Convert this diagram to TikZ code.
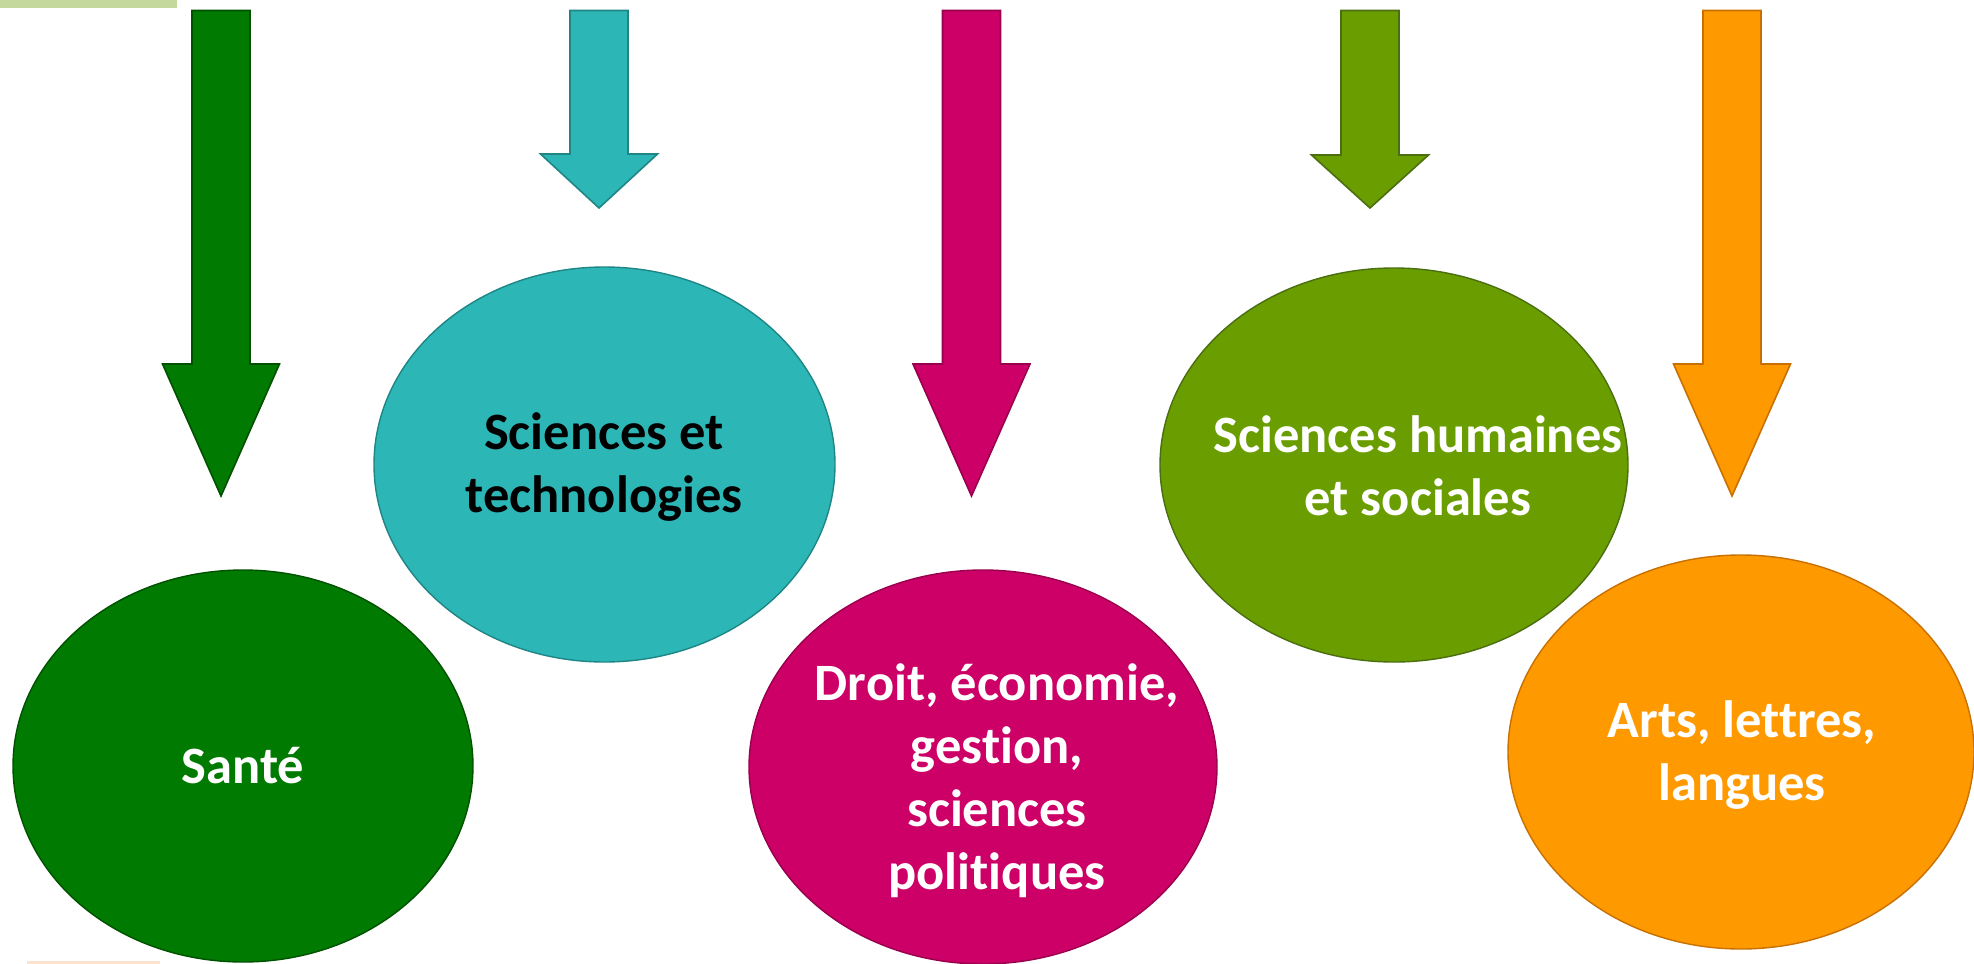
\documentclass[tikz,border=0pt]{standalone}
\usepackage{fontspec}
\setmainfont{Carlito}[Ligatures=NoCommon]
\usetikzlibrary{shapes.geometric}
\definecolor{cGreen}{HTML}{007A00}\definecolor{cGreenD}{HTML}{005200}
\definecolor{cTeal}{HTML}{2DB6B6}\definecolor{cTealD}{HTML}{1F8585}
\definecolor{cMag}{HTML}{CC0066}\definecolor{cMagD}{HTML}{99004D}
\definecolor{cOlive}{HTML}{6A9E00}\definecolor{cOliveD}{HTML}{4A6E10}
\definecolor{cOrange}{HTML}{FF9900}\definecolor{cOrangeD}{HTML}{C87000}
\definecolor{cBar}{HTML}{C4D79C}\definecolor{cPeach}{HTML}{FBE3CF}
\newcommand{\myarrow}[5]{% cx, ybase, ytip, fill, draw
  \filldraw[fill=#4,draw=#5,line width=1.6pt,line join=miter]
    ({#1-29},10.5) -- ({#1+29},10.5) -- ({#1+29},#2) -- ({#1+58.5},#2) -- (#1,#3)
    -- ({#1-58.5},#2) -- ({#1-29},#2) -- cycle;}
\tikzset{
  blob/.style={ellipse,inner sep=0pt,line width=1.4pt},
  lbl/.style={align=center,font=\fontsize{52.5}{63}\selectfont\bfseries,anchor=base,inner sep=0pt}
}
\begin{document}
\begin{tikzpicture}[x=1pt,y=-1pt]
\useasboundingbox (0,0) rectangle (1974,964);
\fill[cBar] (0,0) rectangle (177,8);
\fill[cPeach] (27,961) rectangle (160,964);
% arrows
\myarrow{221}{364}{496}{cGreen}{cGreenD}
\myarrow{599}{154}{208}{cTeal}{cTealD}
\myarrow{971.5}{364}{496}{cMag}{cMagD}
\myarrow{1370}{155}{208}{cOlive}{cOliveD}
\myarrow{1732}{364}{496}{cOrange}{cOrangeD}
% ellipses
\node[blob,fill=cGreen,draw=cGreenD,minimum width=460pt,minimum height=392pt] (e1) at (243,766) {};
\node[blob,fill=cTeal,draw=cTealD,minimum width=461pt,minimum height=395pt] (e2) at (604.5,464.5) {};
\node[blob,fill=cMag,draw=cMagD,minimum width=468pt,minimum height=394pt] (e3) at (983,767) {};
\node[blob,fill=cOlive,draw=cOliveD,minimum width=468pt,minimum height=394pt] (e4) at (1394,465) {};
\node[blob,fill=cOrange,draw=cOrangeD,minimum width=466pt,minimum height=394pt] (e5) at (1741,752) {};
% labels (base anchor = baseline of the last line)
\node[lbl,text=white] (t1) at (243,783) {Santé};
\node[lbl,text=black] (t2) at (604,512) {Sciences et\\technologies};
\node[lbl,text=white] (t3) at (997,889) {Droit, économie,\\gestion,\\sciences\\politiques};
\node[lbl,text=white] (t4) at (1418,515) {Sciences humaines\\et sociales};
\node[lbl,text=white] (t5) at (1742,800) {Arts, lettres,\\langues};
\end{tikzpicture}
\end{document}
